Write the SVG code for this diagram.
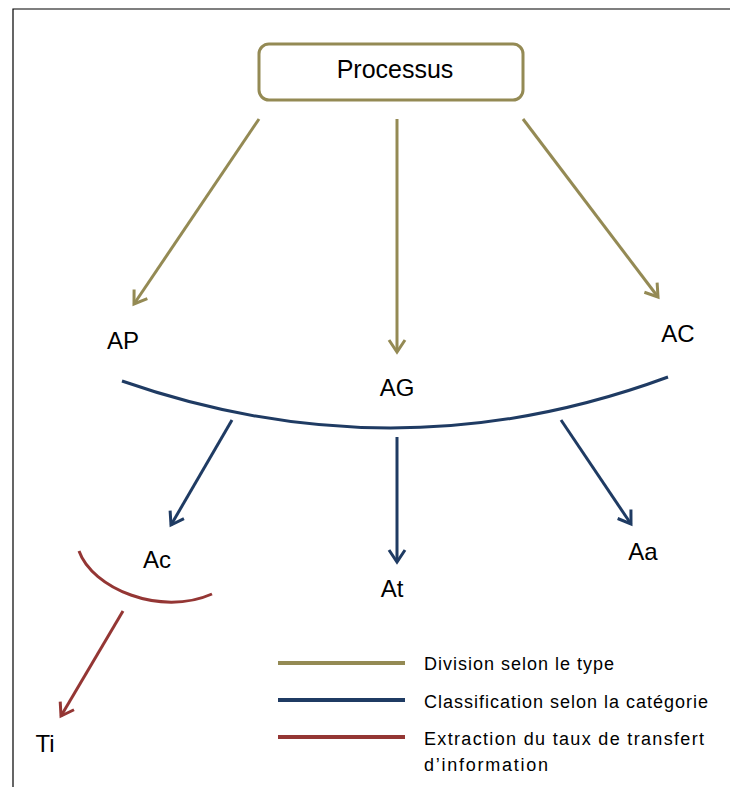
<svg xmlns="http://www.w3.org/2000/svg" width="730" height="787" viewBox="0 0 730 787">
  <defs>
    <style>
      .lbl { font-family: "Liberation Sans", "DejaVu Sans", sans-serif; font-size: 24px; fill: #000; }
      .title { font-family: "Liberation Sans", "DejaVu Sans", sans-serif; font-size: 25px; fill: #000; }
      .leg { font-family: "Liberation Sans", "DejaVu Sans", sans-serif; font-size: 18px; fill: #000; }
      .olive { stroke: #948A54; stroke-width: 3; fill: none; }
      .blue { stroke: #1F3B63; stroke-width: 3; fill: none; }
      .red { stroke: #943634; stroke-width: 3; fill: none; }
    </style>
    <marker id="ah-olive" markerUnits="userSpaceOnUse" markerWidth="30" markerHeight="30" refX="0" refY="0" viewBox="-15 -15 30 30" orient="auto">
      <path d="M -12 -8 L 0 0 L -12 8" stroke="#948A54" stroke-width="3" fill="none"/>
    </marker>
    <marker id="ah-blue" markerUnits="userSpaceOnUse" markerWidth="30" markerHeight="30" refX="0" refY="0" viewBox="-15 -15 30 30" orient="auto">
      <path d="M -12 -8 L 0 0 L -12 8" stroke="#1F3B63" stroke-width="3" fill="none"/>
    </marker>
    <marker id="ah-red" markerUnits="userSpaceOnUse" markerWidth="30" markerHeight="30" refX="0" refY="0" viewBox="-15 -15 30 30" orient="auto">
      <path d="M -12 -8 L 0 0 L -12 8" stroke="#943634" stroke-width="3" fill="none"/>
    </marker>
  </defs>

  <rect width="730" height="787" fill="#fff"/>
  <!-- outer frame -->
  <path d="M 13 787 L 13 9 L 730 9" stroke="#000" stroke-width="1.2" fill="none"/>

  <g id="processus">
    <rect x="259" y="44" width="264" height="56" rx="10" ry="10" fill="#fff" stroke="#948A54" stroke-width="3"/>
    <text class="title" x="395" y="78" text-anchor="middle">Processus</text>
  </g>

  <g id="connectors">
    <!-- division by type -->
    <line class="olive" x1="259" y1="119" x2="134" y2="304" marker-end="url(#ah-olive)"/>
    <line class="olive" x1="397" y1="119" x2="397" y2="352" marker-end="url(#ah-olive)"/>
    <line class="olive" x1="523" y1="119" x2="658" y2="297" marker-end="url(#ah-olive)"/>
    <!-- grouping arc and classification -->
    <path class="blue" d="M 122 381 Q 397 477 668 377"/>
    <line class="blue" x1="232" y1="420" x2="171" y2="525" marker-end="url(#ah-blue)"/>
    <line class="blue" x1="397" y1="437" x2="397" y2="562" marker-end="url(#ah-blue)"/>
    <line class="blue" x1="561" y1="420" x2="631" y2="524" marker-end="url(#ah-blue)"/>
    <!-- extraction -->
    <path class="red" d="M 79 551 C 92 588 160 617 212 594"/>
    <line class="red" x1="123" y1="611" x2="61" y2="716" marker-end="url(#ah-red)"/>
  </g>

  <g id="AP"><text class="lbl" x="123" y="349" text-anchor="middle">AP</text></g>
  <g id="AG"><text class="lbl" x="397" y="396" text-anchor="middle">AG</text></g>
  <g id="AC"><text class="lbl" x="678" y="342" text-anchor="middle">AC</text></g>
  <g id="Ac"><text class="lbl" x="157" y="568" text-anchor="middle">Ac</text></g>
  <g id="At"><text class="lbl" x="392" y="597" text-anchor="middle">At</text></g>
  <g id="Aa"><text class="lbl" x="643" y="560" text-anchor="middle">Aa</text></g>
  <g id="Ti"><text class="lbl" x="45" y="752" text-anchor="middle">Ti</text></g>

  <g id="legend">
    <line x1="278" y1="663" x2="405" y2="663" stroke="#948A54" stroke-width="4"/>
    <line x1="278" y1="700" x2="405" y2="700" stroke="#1F3B63" stroke-width="4"/>
    <line x1="278" y1="737" x2="405" y2="737" stroke="#943634" stroke-width="4"/>
    <text class="leg" x="424" y="670" textLength="190" lengthAdjust="spacing">Division selon le type</text>
    <text class="leg" x="424" y="708" textLength="284" lengthAdjust="spacing">Classification selon  la catégorie</text>
    <text class="leg" x="424" y="745" textLength="280" lengthAdjust="spacing">Extraction du taux de transfert</text>
    <text class="leg" x="424" y="771" textLength="124" lengthAdjust="spacing">d’information</text>
  </g>
</svg>
